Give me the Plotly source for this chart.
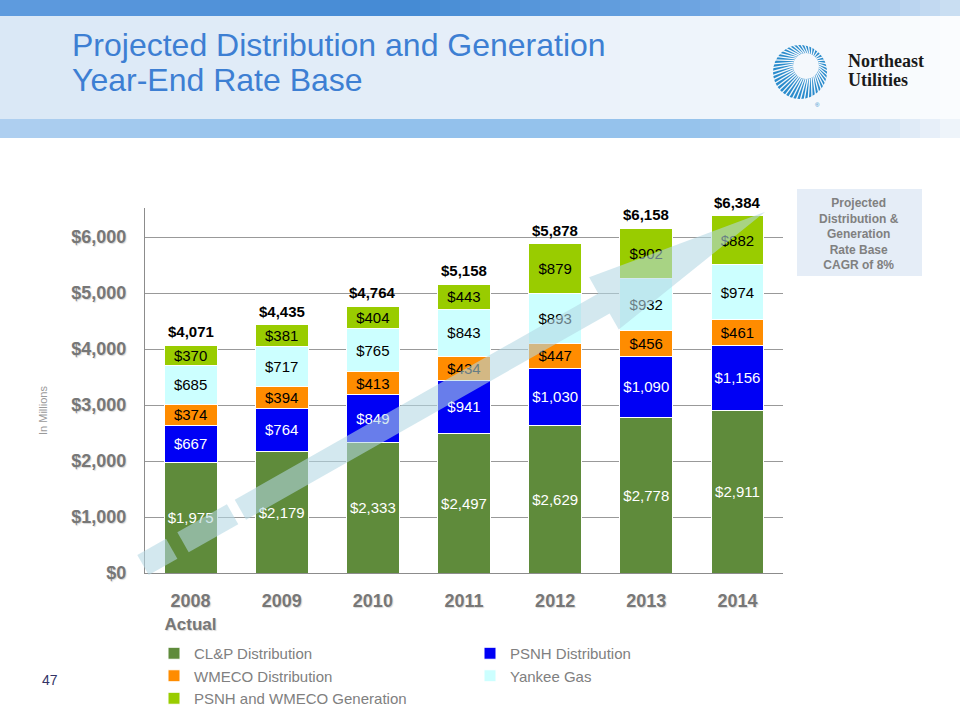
import math
import plotly.graph_objects as go

# ---------------- data ----------------
years = ["2008", "2009", "2010", "2011", "2012", "2013", "2014"]
year_labels = ["2008<br><span style='font-size:17px'>Actual</span>", "2009", "2010", "2011", "2012", "2013", "2014"]
clp_dist = [1975, 2179, 2333, 2497, 2629, 2778, 2911]
psnh_dist = [667, 764, 849, 941, 1030, 1090, 1156]
wmeco_dist = [374, 394, 413, 434, 447, 456, 461]
yankee_gas = [685, 717, 765, 843, 893, 932, 974]
generation = [370, 381, 404, 443, 879, 902, 882]
totals = [4071, 4435, 4764, 5158, 5878, 6158, 6384]
y_ticks = [0, 1000, 2000, 3000, 4000, 5000, 6000]
y_tick_labels = ["$0", "$1,000", "$2,000", "$3,000", "$4,000", "$5,000", "$6,000"]

series = [
    ("CL&P Distribution", clp_dist, "#5f8b3b", "white"),
    ("PSNH Distribution", psnh_dist, "#0000f5", "white"),
    ("WMECO Distribution", wmeco_dist, "#ff8c00", "black"),
    ("Yankee Gas", yankee_gas, "#ccffff", "black"),
    ("PSNH and WMECO Generation", generation, "#99cc00", "black"),
]

# ---------------- layout geometry (pixels) ----------------
W, H = 960, 720
L, R, T, B = 145, 783, 208, 573
PW, PH = R - L, B - T


def X(px):
    return (px - L) / PW


def Y(py):
    return (B - py) / PH


fig = go.Figure()
for name, vals, col, tcol in series:
    fig.add_trace(go.Bar(
        x=years, y=vals, name=name,
        marker=dict(color=col, line=dict(color="white", width=1)),
        text=[f"${v:,}" for v in vals],
        textposition="inside", insidetextanchor="middle",
        constraintext="none",
        textfont=dict(family="Liberation Sans, Arial", size=15, color=tcol),
        hoverinfo="skip",
    ))

shapes = []
annotations = []

# ---------------- header background ----------------
def lerp_color(stops, x):
    for (x0, c0), (x1, c1) in zip(stops[:-1], stops[1:]):
        if x0 <= x <= x1:
            f = (x - x0) / (x1 - x0) if x1 > x0 else 0
            return "rgb(%d,%d,%d)" % tuple(round(a + (b - a) * f) for a, b in zip(c0, c1))
    return "rgb(%d,%d,%d)" % stops[-1][1]


top_stops = [(0, (95, 155, 222)), (400, (68, 138, 212)), (700, (110, 165, 225)), (960, (205, 224, 243))]
mid_stops = [(0, (218, 232, 246)), (500, (230, 239, 249)), (960, (250, 252, 254))]
bot_stops = [(0, (175, 208, 240)), (300, (145, 192, 236)), (700, (150, 195, 236)), (860, (205, 224, 243)), (960, (242, 246, 251))]
N = 48
for i in range(N):
    x0 = i * W / N
    x1 = (i + 1) * W / N + 0.6
    xm = (x0 + x1) / 2
    for (y0, y1, stops) in [(0, 16, top_stops), (16, 119, mid_stops), (119, 138, bot_stops)]:
        shapes.append(dict(type="rect", xref="paper", yref="paper", layer="below",
                           x0=X(x0), x1=X(x1), y0=Y(y1), y1=Y(y0),
                           fillcolor=lerp_color(stops, xm), line=dict(width=0)))

# ---------------- logo ----------------
cx, cy, rr = 800, 72, 27
shapes.append(dict(type="circle", xref="paper", yref="paper",
                   x0=X(cx - rr), x1=X(cx + rr), y0=Y(cy + rr), y1=Y(cy - rr),
                   fillcolor="#2b8ccc", line=dict(width=0)))
icx, icy, ir = 806, 66, 13
shapes.append(dict(type="circle", xref="paper", yref="paper",
                   x0=X(icx - ir), x1=X(icx + ir), y0=Y(icy + ir), y1=Y(icy - ir),
                   fillcolor="#f4f8fc", line=dict(width=0)))
for k in range(44):
    a = 2 * math.pi * k / 44
    shapes.append(dict(type="line", xref="paper", yref="paper",
                       x0=X(icx + ir * math.cos(a)), y0=Y(icy + ir * math.sin(a)),
                       x1=X(cx + (rr + 2) * math.cos(a)), y1=Y(cy + (rr + 2) * math.sin(a)),
                       line=dict(color="#f4f8fc", width=1.3)))

annotations += [
    dict(text="Northeast", x=X(846), y=Y(61), xref="paper", yref="paper", xanchor="left", yanchor="middle",
         showarrow=False, font=dict(family="Liberation Serif, Times New Roman", size=18, color="#1a1a1a", weight="bold")),
    dict(text="Utilities", x=X(846), y=Y(80), xref="paper", yref="paper", xanchor="left", yanchor="middle",
         showarrow=False, font=dict(family="Liberation Serif, Times New Roman", size=18, color="#1a1a1a", weight="bold")),
    dict(text="®", x=X(822), y=Y(100), xref="paper", yref="paper", showarrow=False,
         font=dict(family="Liberation Sans", size=6, color="#2b8ccc")),
]

# ---------------- title ----------------
annotations += [
    dict(text="Projected Distribution and Generation", x=X(70), y=Y(45), xref="paper", yref="paper",
         xanchor="left", yanchor="middle", showarrow=False,
         font=dict(family="Liberation Sans, Arial", size=32, color="#3d7fd3")),
    dict(text="Year-End Rate Base", x=X(70), y=Y(80), xref="paper", yref="paper",
         xanchor="left", yanchor="middle", showarrow=False,
         font=dict(family="Liberation Sans, Arial", size=32, color="#3d7fd3")),
]

# ---------------- CAGR box ----------------
shapes.append(dict(type="rect", xref="paper", yref="paper", layer="below",
                   x0=X(797), x1=X(922), y0=Y(276), y1=Y(189),
                   fillcolor="#e5edf7", line=dict(width=0)))
annotations.append(dict(
    text="Projected<br>Distribution &amp;<br>Generation<br>Rate Base<br>CAGR of 8%",
    x=X(859), y=Y(234), xref="paper", yref="paper", xanchor="center", yanchor="middle",
    showarrow=False, align="center",
    font=dict(family="Liberation Sans, Arial", size=12, color="#808080", weight="bold")))

# ---------------- misc text ----------------
annotations.append(dict(text="In Millions", x=X(35), y=Y(410), xref="paper", yref="paper",
                        textangle=-90, showarrow=False,
                        font=dict(family="Liberation Sans, Arial", size=11, color="#9a9a9a")))
annotations.append(dict(text="47", x=X(40), y=Y(690), xref="paper", yref="paper", showarrow=False,
                        font=dict(family="Liberation Sans, Arial", size=14, color="#333366")))

# totals above bars (category axis -> serial index)
for i, tot in enumerate(totals):
    annotations.append(dict(text=f"${tot:,}", x=i, y=tot, xref="x", yref="y",
                            yanchor="bottom", yshift=3, showarrow=False,
                            font=dict(family="Liberation Sans, Arial", size=15, color="black", weight="bold")))

# ---------------- growth arrow (decorative overlay) ----------------
S = (143.0, 565.0)
tip = (765.0, 212.0)
dx, dy = tip[0] - S[0], tip[1] - S[1]
Lr = math.hypot(dx, dy)
ux, uy = dx / Lr, dy / Lr
nx, ny = -uy, ux


def P(t, off):
    return (S[0] + ux * t + nx * off, S[1] + uy * t + ny * off)


def path_from(pts):
    return "M " + " L ".join("%.5f,%.5f" % (X(px), Y(py)) for px, py in pts) + " Z"


hw, hh = 11.5, 30
arrow_fill = "rgba(180,215,228,0.58)"
for t0, t1 in [(0, 33), (46, 103)]:
    pts = [P(t0, -hw), P(t1, -hw), P(t1, hw), P(t0, hw)]
    shapes.append(dict(type="path", xref="paper", yref="paper", layer="above",
                       path=path_from(pts), fillcolor=arrow_fill, line=dict(width=0)))
tb = 530
pts = [P(112, -hw), P(tb, -hw), P(tb, -hh), P(Lr, 0), P(tb, hh), P(tb, hw), P(112, hw)]
shapes.append(dict(type="path", xref="paper", yref="paper", layer="above",
                   path=path_from(pts), fillcolor=arrow_fill, line=dict(width=0)))

fig.update_layout(
    width=W, height=H,
    margin=dict(l=L, r=W - R, t=T, b=H - B, autoexpand=False),
    paper_bgcolor="white", plot_bgcolor="rgba(0,0,0,0)",
    barmode="stack", bargap=0.42,
    shapes=shapes, annotations=annotations,
    showlegend=True,
    legend=dict(orientation="h", x=X(154), y=Y(637), xanchor="left", yanchor="top",
                entrywidth=271, traceorder="normal",
                font=dict(family="Liberation Sans, Arial", size=15, color="#808080"),
                bgcolor="rgba(0,0,0,0)"),
    xaxis=dict(type="category", range=[-0.5, 6.5], tickmode="array", tickvals=years, ticktext=year_labels,
               showgrid=False, showline=True, linecolor="#8c8c8c", linewidth=1, ticks="",
               ticklabelstandoff=11, tickangle=0,
               tickfont=dict(family="Liberation Sans, Arial", size=18, color="#777777", weight="bold",
                             shadow="1px 1px 1px #d8d8d8")),
    yaxis=dict(range=[0, 6520], tickmode="array", tickvals=y_ticks, ticktext=y_tick_labels,
               showgrid=True, gridcolor="#999999", gridwidth=1, zeroline=False,
               showline=True, linecolor="#8c8c8c", linewidth=1, ticks="",
               ticklabelstandoff=14,
               tickfont=dict(family="Liberation Sans, Arial", size=18, color="#777777", weight="bold",
                             shadow="1px 1px 1px #d8d8d8")),
)

fig.write_html("out.html", config={"displayModeBar": False},
               post_script="document.body.style.margin='0';")
